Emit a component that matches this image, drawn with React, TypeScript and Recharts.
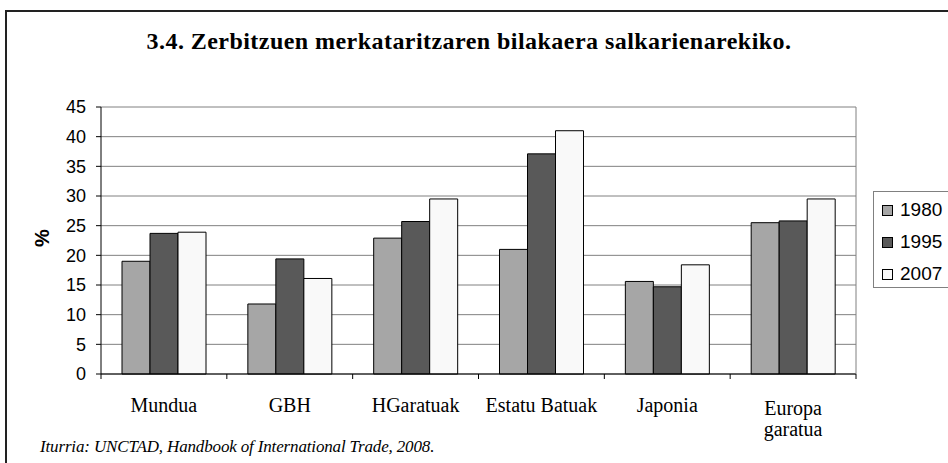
import React from "react";
import { Bar, BarChart, CartesianGrid, XAxis, YAxis } from "recharts";

// Datuak grafikotik irakurriak (%)
const CATEGORIES = ["Mundua", "GBH", "HGaratuak", "Estatu Batuak", "Japonia", "Europa\ngaratua"];
const S1980 = [19.0, 11.8, 22.9, 21.0, 15.6, 25.5];
const S1995 = [23.7, 19.4, 25.7, 37.1, 14.7, 25.8];
const S2007 = [23.9, 16.1, 29.5, 41.0, 18.4, 29.5];
const Y_TICKS = [0, 5, 10, 15, 20, 25, 30, 35, 40, 45];

const SERIES = [
  { key: "1980", values: S1980, fill: "#a6a6a6" },
  { key: "1995", values: S1995, fill: "#595959" },
  { key: "2007", values: S2007, fill: "#f9f9f9" },
];

const SERIF = "Liberation Serif";
const SANS = "Liberation Sans";

const data = CATEGORIES.map((name, i) => {
  const row: Record<string, string | number> = { name };
  for (const s of SERIES) row[s.key] = s.values[i];
  return row;
});

// Kategoria-etiketak + marra txikiak kategorien arteko mugetan (Excel erara)
function CategoryTick({ x, y, payload, index, visibleTicksCount }: any) {
  const lines = String(payload.value).split("\n");
  const first = lines.length > 1 ? 41 : 38;
  const half = payload.offset ?? 0;
  return (
    <g>
      <line x1={x - half} x2={x - half} y1={y} y2={y + 5} stroke="#000" />
      {index === visibleTicksCount - 1 && <line x1={x + half} x2={x + half} y1={y} y2={y + 5} stroke="#000" />}
      <text x={x} y={y} textAnchor="middle" fontFamily={SERIF} fontSize={20} fill="#000">
        {lines.map((l, i) => (
          <tspan key={i} x={x} dy={i === 0 ? first : 21}>
            {l}
          </tspan>
        ))}
      </text>
    </g>
  );
}

export default function App() {
  return (
    <div style={{ position: "absolute", left: 0, top: 0, width: 948, height: 463, background: "#fff", overflow: "hidden" }}>
      <div style={{ position: "absolute", left: 5, top: 10, width: 1000, height: 1000, borderLeft: "2px solid #222", borderTop: "2px solid #222" }} />
      <div
        style={{
          position: "absolute",
          left: 0,
          top: 27,
          width: 938,
          textAlign: "center",
          fontFamily: SERIF,
          fontWeight: "bold",
          fontSize: 24,
          letterSpacing: 0.45,
          lineHeight: "28px",
          color: "#000",
        }}
      >
        3.4. Zerbitzuen merkataritzaren bilakaera salkarienarekiko.
      </div>

      <div style={{ position: "absolute", left: 0, top: 0 }}>
        <BarChart width={948} height={463} data={data} margin={{ top: 107, right: 91, left: 41, bottom: 0 }} barCategoryGap="16.7%" barGap={0}>
          <CartesianGrid vertical={false} stroke="#808080" strokeWidth={1} />
          <XAxis
            dataKey="name"
            height={89}
            interval={0}
            tickSize={0}
            tickMargin={0}
            axisLine={{ stroke: "#000" }}
            tickLine={false}
            tick={<CategoryTick />}
          />
          <YAxis
            domain={[0, 45]}
            ticks={Y_TICKS}
            width={60}
            tickSize={5}
            tickMargin={10}
            axisLine={{ stroke: "#000" }}
            tickLine={{ stroke: "#000" }}
            tick={{ fill: "#000", fontSize: 18, fontFamily: SANS }}
          />
          <YAxis yAxisId="right" orientation="right" domain={[0, 45]} width={1} tick={false} tickLine={false} axisLine={{ stroke: "#808080" }} />
          {SERIES.map((s) => (
            <Bar key={s.key} dataKey={s.key} fill={s.fill} stroke="#000" strokeWidth={1} isAnimationActive={false} />
          ))}
        </BarChart>
      </div>

      <div
        style={{
          position: "absolute",
          left: 30,
          top: 226,
          width: 24,
          height: 24,
          display: "flex",
          alignItems: "center",
          justifyContent: "center",
          transform: "rotate(-90deg)",
          fontFamily: SANS,
          fontWeight: "bold",
          fontSize: 20,
          color: "#000",
        }}
      >
        %
      </div>

      <div
        style={{
          position: "absolute",
          left: 873,
          top: 191,
          width: 80,
          height: 97,
          border: "1px solid #808080",
          boxSizing: "border-box",
          background: "#fff",
        }}
      >
        {SERIES.map((s, i) => (
          <div
            key={s.key}
            style={{ position: "absolute", left: 8, top: 6 + i * 32, height: 24, display: "flex", alignItems: "center", fontFamily: SANS, fontSize: 19, color: "#000" }}
          >
            <span style={{ display: "inline-block", width: 9, height: 9, border: "1px solid #000", background: s.fill, marginRight: 7 }} />
            {s.key}
          </div>
        ))}
      </div>

      <div style={{ position: "absolute", left: 40, top: 437, fontFamily: SERIF, fontStyle: "italic", fontSize: 17, letterSpacing: -0.15, lineHeight: "20px", color: "#000" }}>
        Iturria: UNCTAD, Handbook of International Trade, 2008.
      </div>
    </div>
  );
}
